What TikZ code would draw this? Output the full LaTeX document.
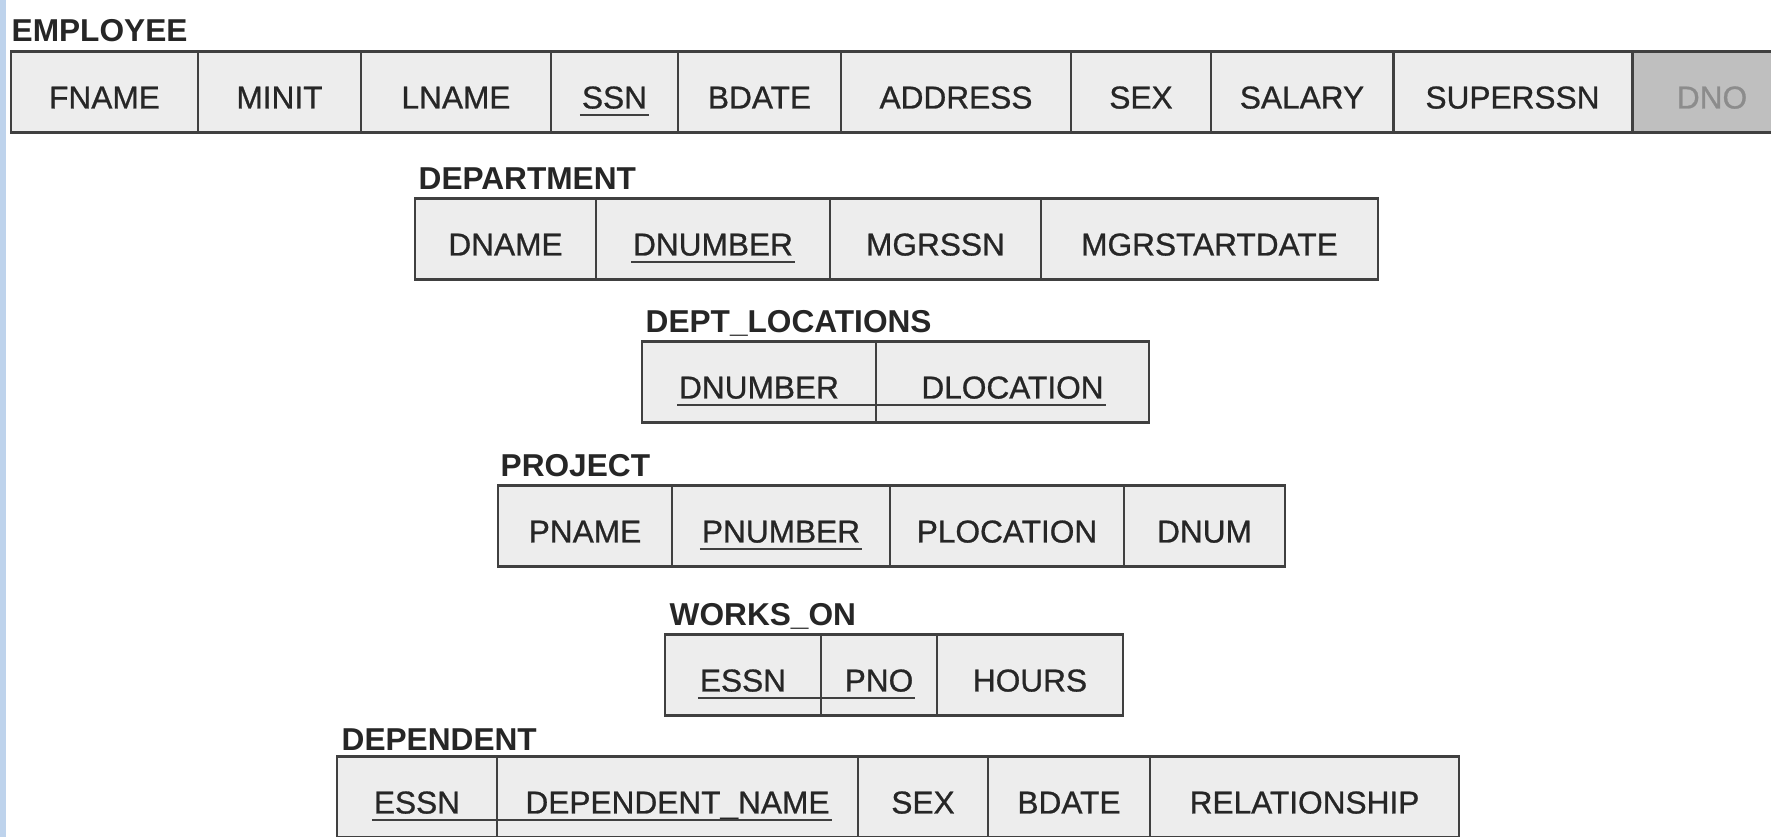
\documentclass[tikz,border=0pt]{standalone}
\usepackage{fontspec}
\setmainfont{Liberation Sans}
\newfontfamily\cellfont[FakeBold=0.8]{Liberation Sans}
\usetikzlibrary{positioning, calc}
\definecolor{stripeblue}{RGB}{190,211,236}

% underline of a key, from the text of #1 to the end of the text of #2
\newcommand{\keyunderline}[2]{\draw[keyrule] let \p1=(#1.text), \p2=(#2.center), \p3=(#2.text) in (\x1-0.2mm,\y1-0.65mm) -- (2*\x2-\x3+0.2mm,\y1-0.65mm);}

\begin{document}
\begin{tikzpicture}
        \tikzset{
          attr/.style={rectangle, draw=black!75, line width=0.85pt, fill=black!7, minimum height=8.1mm, inner sep=0pt, outer sep=0pt, text height=3.2mm, text depth=0pt, font=\cellfont\fontsize{9}{10}\selectfont, text=black!85},
          relname/.style={font=\bfseries\fontsize{9}{10}\selectfont, inner sep=0pt, text depth=0pt, text=black!85},
          keyrule/.style={line width=0.8pt, black!75}
        }
        \useasboundingbox (0,0) rectangle (17.71,8.37);
        \clip (0,0) rectangle (17.71,8.37);
        \fill[stripeblue] (0,0) rectangle (0.06,8.37);

        % EMPLOYEE
        \node [attr, minimum width=1.87cm, anchor=north west] (fname) at (0.11,7.85) {FNAME};
        \node [attr, minimum width=1.63cm, right=0pt of fname] (minit) {MINIT};
        \node [attr, minimum width=1.90cm, right=0pt of minit] (lname) {LNAME};
        \node [attr, minimum width=1.27cm, right=0pt of lname] (ssn) {SSN};
        \node [attr, minimum width=1.63cm, right=0pt of ssn] (bdate) {BDATE};
        \node [attr, minimum width=2.30cm, right=0pt of bdate] (address) {ADDRESS};
        \node [attr, minimum width=1.40cm, right=0pt of address] (sex) {SEX};
        \node [attr, minimum width=1.82cm, right=0pt of sex] (salary) {SALARY};
        \node [attr, minimum width=2.39cm, right=0pt of salary] (superssn) {SUPERSSN};
        \node [attr, minimum width=1.60cm, fill=black!25, text=black!45, right=0pt of superssn] (dno) {DNO};
        \node [relname, above right=1mm and 0mm of fname.north west] (employee) {EMPLOYEE};

        % DEPARTMENT
        \node [attr, minimum width=1.81cm, anchor=north west] (dname) at (4.15,6.38) {DNAME};
        \node [attr, minimum width=2.34cm, right=0pt of dname] (dnumber) {DNUMBER};
        \node [attr, minimum width=2.11cm, right=0pt of dnumber] (mgrssn) {MGRSSN};
        \node [attr, minimum width=3.37cm, right=0pt of mgrssn] (mgrstart) {MGRSTARTDATE};
        \node [relname, above right=0.9mm and 0.3mm of dname.north west] (department) {DEPARTMENT};

        % DEPT_LOCATIONS
        \node [attr, minimum width=2.34cm, anchor=north west] (locdnumber) at (6.42,4.95) {DNUMBER};
        \node [attr, minimum width=2.73cm, right=0pt of locdnumber] (dlocation) {DLOCATION};
        \node [relname, above right=0.9mm and 0.3mm of locdnumber.north west] (deptloc) {DEPT\_LOCATIONS};

        % PROJECT
        \node [attr, minimum width=1.74cm, anchor=north west] (pname) at (4.98,3.51) {PNAME};
        \node [attr, minimum width=2.18cm, right=0pt of pname] (pnumber) {PNUMBER};
        \node [attr, minimum width=2.34cm, right=0pt of pnumber] (plocation) {PLOCATION};
        \node [attr, minimum width=1.61cm, right=0pt of plocation] (dnum) {DNUM};
        \node [relname, above right=0.9mm and 0.2mm of pname.north west] (project) {PROJECT};

        % WORKS_ON
        \node [attr, minimum width=1.56cm, anchor=north west] (wessn) at (6.65,2.02) {ESSN};
        \node [attr, minimum width=1.16cm, right=0pt of wessn] (pno) {PNO};
        \node [attr, minimum width=1.86cm, right=0pt of pno] (hours) {HOURS};
        \node [relname, above right=0.9mm and 0.4mm of wessn.north west] (workson) {WORKS\_ON};

        % DEPENDENT
        \node [attr, minimum width=1.60cm, anchor=north west] (dessn) at (3.37,0.80) {ESSN};
        \node [attr, minimum width=3.61cm, right=0pt of dessn] (depname) {DEPENDENT\_NAME};
        \node [attr, minimum width=1.30cm, right=0pt of depname] (depsex) {SEX};
        \node [attr, minimum width=1.62cm, right=0pt of depsex] (depbdate) {BDATE};
        \node [attr, minimum width=3.09cm, right=0pt of depbdate] (relationship) {RELATIONSHIP};
        \node [relname, above right=0.6mm and 0.4mm of dessn.north west] (dependent) {DEPENDENT};

        % keys
        \keyunderline{ssn}{ssn}
        \keyunderline{dnumber}{dnumber}
        \keyunderline{locdnumber}{dlocation}
        \keyunderline{pnumber}{pnumber}
        \keyunderline{wessn}{pno}
        \keyunderline{dessn}{depname}
    \end{tikzpicture}
\end{document}
